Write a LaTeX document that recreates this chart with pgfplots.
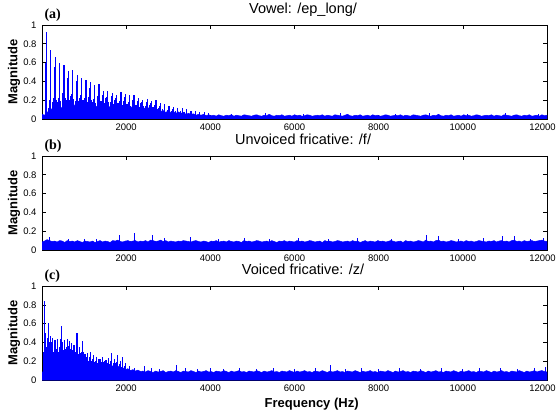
\documentclass[border=0pt]{standalone}
\usepackage{fontspec}
\setmainfont{Liberation Sans}
\newfontfamily\panelfont{Liberation Serif}
\usepackage{pgfplots}
\pgfplotsset{compat=1.18}

\pgfplotsset{
  panel/.style={
    scale only axis, width=505pt, height=94pt,
    xmin=0, xmax=12000, ymin=0, ymax=1,
    scaled x ticks=false,
    xtick={2000,4000,6000,8000,10000,12000},
    xticklabels={2000,4000,6000,8000,10000,{\kern-9pt 12000}},
    ytick={0,0.2,0.4,0.6,0.8,1},
    yticklabels={0,0.2,0.4,0.6,0.8,1},
    tick align=inside, major tick length=4pt,
    tick style={black, line width=0.6pt},
    axis line style={black, line width=0.8pt},
    xticklabel style={font=\fontsize{9.5}{10}\selectfont, yshift=-1.5pt},
    yticklabel style={font=\fontsize{9.5}{10}\selectfont, xshift=-2pt},
    ylabel={Magnitude},
    every axis y label/.style={at={(axis description cs:-0.0555,0.5)}, rotate=90, anchor=center,
      font=\bfseries\fontsize{13}{14}\selectfont},
    title style={at={(axis description cs:0.517,1)}, anchor=base, yshift=5.5pt,
      font=\fontsize{14.5}{15}\selectfont},
  },
  band/.style={draw=blue, fill=blue, line width=0.5pt},
  spikes/.style={blue, ycomb, line width=1.2pt, mark=none},
}

\begin{document}
\begin{tikzpicture}
\useasboundingbox (0,0) rectangle (556pt,415pt);

% (a) vowel
\begin{axis}[panel, name=pa, at={(42pt,296pt)}, anchor=south west, title={Vowel: /ep\_long/}]
\addplot[band] coordinates {
(0,0.05)(60,0.04)(120,0.07)(180,0.09)(240,0.11)(300,0.13)(360,0.10)(420,0.14)(480,0.11)(540,0.15)
(600,0.12)(660,0.14)(720,0.11)(780,0.15)(840,0.12)(900,0.14)(960,0.12)(1020,0.15)(1080,0.12)(1140,0.14)
(1200,0.15)(1260,0.12)(1320,0.14)(1380,0.12)(1440,0.14)(1500,0.12)(1560,0.15)(1620,0.12)(1680,0.14)(1740,0.12)
(1800,0.14)(1860,0.11)(1920,0.14)(1980,0.12)(2040,0.13)(2100,0.11)(2160,0.14)(2220,0.12)(2280,0.13)(2340,0.11)
(2400,0.13)(2460,0.10)(2520,0.12)(2580,0.10)(2640,0.11)(2700,0.09)(2760,0.10)(2820,0.08)(2880,0.09)(2940,0.07)
(3000,0.085)(3060,0.07)(3120,0.08)(3180,0.06)(3240,0.075)(3300,0.06)(3360,0.07)(3420,0.05)(3480,0.06)(3540,0.05)
(3600,0.055)(3660,0.04)(3720,0.05)(3780,0.04)(3840,0.05)(3900,0.035)(3960,0.045)
(4020,0.035)(4080,0.04)(4140,0.03)(4200,0.045)(4260,0.035)(4320,0.03)(4380,0.04)(4440,0.035)(4500,0.045)(4560,0.03)
(4620,0.04)(4680,0.035)(4740,0.03)(4800,0.045)(4860,0.04)(4920,0.035)(4980,0.03)(5040,0.04)(5100,0.045)(5160,0.035)
(5220,0.03)(5280,0.04)(5340,0.035)(5400,0.05)(5460,0.035)(5520,0.03)(5580,0.04)(5640,0.035)(5700,0.045)(5760,0.03)
(5820,0.035)(5880,0.04)(5940,0.03)(6000,0.045)(6060,0.035)(6120,0.04)(6180,0.03)(6240,0.035)(6300,0.045)(6360,0.04)
(6420,0.03)(6480,0.035)(6540,0.04)(6600,0.035)(6660,0.045)(6720,0.03)(6780,0.04)(6840,0.035)(6900,0.03)(6960,0.045)
(7020,0.04)(7080,0.035)(7140,0.03)(7200,0.04)(7260,0.05)(7320,0.035)(7380,0.03)(7440,0.04)(7500,0.035)(7560,0.045)
(7620,0.03)(7680,0.035)(7740,0.04)(7800,0.03)(7860,0.045)(7920,0.035)(7980,0.04)(8040,0.03)(8100,0.035)(8160,0.045)
(8220,0.04)(8280,0.03)(8340,0.035)(8400,0.04)(8460,0.035)(8520,0.045)(8580,0.03)(8640,0.04)(8700,0.035)(8760,0.03)
(8820,0.045)(8880,0.04)(8940,0.035)(9000,0.03)(9060,0.04)(9120,0.045)(9180,0.035)(9240,0.03)(9300,0.04)(9360,0.035)
(9420,0.05)(9480,0.035)(9540,0.03)(9600,0.04)(9660,0.035)(9720,0.045)(9780,0.03)(9840,0.035)(9900,0.04)(9960,0.03)
(10020,0.045)(10080,0.035)(10140,0.04)(10200,0.03)(10260,0.035)(10320,0.045)(10380,0.04)(10440,0.03)(10500,0.035)(10560,0.04)
(10620,0.035)(10680,0.045)(10740,0.03)(10800,0.04)(10860,0.035)(10920,0.03)(10980,0.045)(11040,0.04)(11100,0.035)(11160,0.03)
(11220,0.04)(11280,0.045)(11340,0.035)(11400,0.03)(11460,0.04)(11520,0.035)(11580,0.045)(11640,0.03)(11700,0.035)(11760,0.04)
(11820,0.03)(11880,0.045)(11940,0.035)(12000,0.04)
} \closedcycle;
% harmonics
\addplot[spikes] coordinates {
(104,0.93)(210,0.73)(316,0.655)(420,0.60)(524,0.57)(628,0.51)(732,0.52)(836,0.47)(940,0.44)(1044,0.42)
(1148,0.39)(1252,0.36)(1356,0.37)(1460,0.30)(1564,0.30)(1668,0.28)(1772,0.26)(1876,0.29)(1980,0.27)(2084,0.25)
(2188,0.26)(2292,0.22)(2396,0.20)(2500,0.21)(2604,0.19)(2708,0.20)(2812,0.17)(2916,0.16)(3020,0.14)(3124,0.13)
(3228,0.12)(3332,0.12)(3436,0.11)(3540,0.09)(3644,0.09)(3748,0.07)(3852,0.07)(3956,0.06)
};
\addplot[spikes, line width=0.8pt] coordinates {
(90,0.60)(196,0.62)(302,0.55)(406,0.50)(510,0.48)(614,0.44)(718,0.43)(822,0.40)(926,0.37)(1030,0.35)
(1134,0.33)(1238,0.30)(1342,0.31)(1446,0.26)(1550,0.25)(1654,0.24)(1758,0.22)(1862,0.24)(1966,0.23)(2070,0.21)
(2174,0.22)(2278,0.19)(2382,0.17)(2486,0.18)(2590,0.16)(2694,0.17)(2798,0.14)(2902,0.13)(3006,0.12)(3110,0.11)
};
\addplot[spikes, line width=0.7pt] coordinates {
(156,0.12)(262,0.22)(368,0.18)(472,0.25)(576,0.20)(680,0.24)(784,0.19)(888,0.22)(992,0.20)(1096,0.23)
(1200,0.18)(1304,0.21)(1408,0.19)(1512,0.22)(1616,0.18)(1720,0.20)(1824,0.17)(1928,0.19)(2032,0.16)(2136,0.18)
(2240,0.15)(2344,0.17)(2448,0.14)(2552,0.15)(2656,0.13)(2760,0.12)(2864,0.11)(2968,0.10)(3072,0.09)(3176,0.08)
(3280,0.08)(3384,0.07)(4500,0.055)(5300,0.06)(6200,0.055)(7100,0.06)(8400,0.055)(9200,0.06)(10100,0.055)(11000,0.06)(11800,0.055)
};
\addplot[spikes, line width=0.7pt] coordinates {
(182,0.20)(286,0.25)(390,0.22)(494,0.28)(598,0.24)(702,0.27)(806,0.23)(910,0.26)(1014,0.22)(1118,0.25)
(1222,0.21)(1326,0.24)(1430,0.20)(1534,0.23)(1638,0.20)(1742,0.22)(1846,0.19)(1950,0.21)(2054,0.18)(2158,0.20)
(2262,0.17)(2366,0.18)(2470,0.16)(2574,0.17)(2678,0.15)
(236,0.18)(340,0.20)(444,0.19)(548,0.22)(652,0.20)(756,0.21)(860,0.19)(964,0.20)(1068,0.18)(1172,0.20)
(1276,0.17)(1380,0.19)(1484,0.17)(1588,0.18)(1692,0.16)(1796,0.17)(1900,0.15)(2004,0.16)(2108,0.14)(2212,0.15)
(2316,0.13)(2420,0.14)(2524,0.12)(2628,0.13)(2732,0.11)
};
\end{axis}

% (b) unvoiced fricative
\begin{axis}[panel, name=pb, at={(42pt,165pt)}, anchor=south west, title={Unvoiced fricative: /f/}]
\addplot[band] coordinates {
(0,0.085)(60,0.095)(120,0.11)(180,0.10)(240,0.09)(300,0.095)(360,0.085)(420,0.10)(480,0.095)(540,0.08)
(600,0.10)(660,0.09)(720,0.095)(780,0.085)(840,0.10)(900,0.09)(960,0.08)(1020,0.095)(1080,0.09)(1140,0.085)
(1200,0.095)(1260,0.08)(1320,0.09)(1380,0.10)(1440,0.085)(1500,0.095)(1560,0.09)(1620,0.08)(1680,0.10)(1740,0.095)
(1800,0.105)(1860,0.09)(1920,0.085)(1980,0.095)(2040,0.10)(2100,0.09)(2160,0.095)(2220,0.10)(2280,0.085)(2340,0.095)
(2400,0.09)(2460,0.10)(2520,0.085)(2580,0.105)(2640,0.10)(2700,0.09)(2760,0.095)(2820,0.105)(2880,0.09)(2940,0.10)
(3000,0.085)(3060,0.095)(3120,0.09)(3180,0.085)(3240,0.095)(3300,0.09)(3360,0.10)(3420,0.095)(3480,0.09)(3540,0.085)
(3600,0.095)(3660,0.10)(3720,0.09)(3780,0.085)(3840,0.095)(3900,0.09)(3960,0.08)(4020,0.095)(4080,0.09)(4140,0.10)
(4200,0.085)(4260,0.09)(4320,0.095)(4380,0.085)(4440,0.10)(4500,0.09)(4560,0.085)(4620,0.095)(4680,0.09)(4740,0.08)
(4800,0.10)(4860,0.09)(4920,0.095)(4980,0.085)(5040,0.09)(5100,0.10)(5160,0.095)(5220,0.085)(5280,0.09)(5340,0.095)
(5400,0.085)(5460,0.10)(5520,0.09)(5580,0.08)(5640,0.095)(5700,0.09)(5760,0.10)(5820,0.085)(5880,0.095)(5940,0.09)
(6000,0.085)(6060,0.10)(6120,0.09)(6180,0.095)(6240,0.085)(6300,0.09)(6360,0.10)(6420,0.095)(6480,0.085)(6540,0.09)
(6600,0.095)(6660,0.08)(6720,0.10)(6780,0.09)(6840,0.095)(6900,0.085)(6960,0.09)(7020,0.10)(7080,0.095)(7140,0.085)
(7200,0.09)(7260,0.095)(7320,0.085)(7380,0.10)(7440,0.09)(7500,0.095)(7560,0.08)(7620,0.09)(7680,0.10)(7740,0.085)
(7800,0.095)(7860,0.09)(7920,0.085)(7980,0.10)(8040,0.09)(8100,0.095)(8160,0.085)(8220,0.09)(8280,0.10)(8340,0.095)
(8400,0.085)(8460,0.09)(8520,0.095)(8580,0.08)(8640,0.10)(8700,0.09)(8760,0.095)(8820,0.085)(8880,0.09)(8940,0.10)
(9000,0.095)(9060,0.085)(9120,0.105)(9180,0.09)(9240,0.095)(9300,0.085)(9360,0.10)(9420,0.105)(9480,0.09)(9540,0.095)
(9600,0.085)(9660,0.09)(9720,0.10)(9780,0.095)(9840,0.085)(9900,0.09)(9960,0.095)(10020,0.085)(10080,0.10)(10140,0.09)
(10200,0.095)(10260,0.085)(10320,0.09)(10380,0.10)(10440,0.095)(10500,0.09)(10560,0.085)(10620,0.095)(10680,0.09)(10740,0.10)
(10800,0.085)(10860,0.095)(10920,0.10)(10980,0.09)(11040,0.095)(11100,0.085)(11160,0.10)(11220,0.105)(11280,0.09)(11340,0.095)
(11400,0.085)(11460,0.10)(11520,0.09)(11580,0.095)(11640,0.10)(11700,0.09)(11760,0.095)(11820,0.10)(11880,0.105)(11940,0.095)
(12000,0.09)
} \closedcycle;
\addplot[spikes, line width=0.9pt] coordinates {
(183,0.134)(620,0.12)(1000,0.115)(1300,0.12)(1850,0.16)(2208,0.18)(2621,0.162)(2900,0.13)(3518,0.134)(4200,0.12)
(4800,0.125)(5400,0.12)(6100,0.13)(6800,0.12)(7500,0.125)(8300,0.12)(9126,0.158)(9420,0.148)(9900,0.12)(10500,0.13)
(10930,0.15)(11215,0.15)(11600,0.12)(11913,0.13)
};
\end{axis}

% (c) voiced fricative
\begin{axis}[panel, name=pc, at={(42pt,35pt)}, anchor=south west, title={Voiced fricative: /z/},
  xlabel={Frequency (Hz)},
  every axis x label/.style={at={(axis description cs:0.534,0)}, anchor=base, yshift=-27pt,
    font=\bfseries\fontsize{13}{14}\selectfont}]
\addplot[band] coordinates {
(0,0.08)(60,0.10)(120,0.15)(180,0.19)(240,0.17)(300,0.21)(360,0.18)(420,0.22)(480,0.19)(540,0.23)
(600,0.20)(660,0.18)(720,0.22)(780,0.19)(840,0.21)(900,0.18)(960,0.20)(1020,0.17)(1080,0.19)(1140,0.16)
(1200,0.18)(1260,0.15)(1320,0.17)(1380,0.15)(1440,0.16)(1500,0.14)(1560,0.16)(1620,0.14)(1680,0.15)(1740,0.13)
(1800,0.15)(1860,0.12)(1920,0.13)(1980,0.11)(2040,0.12)(2100,0.10)(2160,0.11)(2220,0.095)(2280,0.105)(2340,0.09)
(2400,0.095)(2460,0.085)(2520,0.10)(2580,0.09)(2640,0.08)(2700,0.095)(2760,0.085)(2820,0.09)(2880,0.10)(2940,0.08)
(3000,0.09)(3060,0.095)(3120,0.085)(3180,0.10)(3240,0.09)(3300,0.08)(3360,0.095)(3420,0.09)(3480,0.085)(3540,0.10)
(3600,0.09)(3660,0.08)(3720,0.095)(3780,0.085)(3840,0.09)(3900,0.10)(3960,0.085)(4020,0.09)(4080,0.08)(4140,0.095)
(4200,0.09)(4260,0.085)(4320,0.10)(4380,0.09)(4440,0.08)(4500,0.095)(4560,0.085)(4620,0.09)(4680,0.10)(4740,0.085)
(4800,0.09)(4860,0.08)(4920,0.095)(4980,0.09)(5040,0.085)(5100,0.10)(5160,0.09)(5220,0.08)(5280,0.095)(5340,0.085)
(5400,0.09)(5460,0.10)(5520,0.085)(5580,0.09)(5640,0.08)(5700,0.095)(5760,0.09)(5820,0.085)(5880,0.10)(5940,0.09)
(6000,0.08)(6060,0.095)(6120,0.085)(6180,0.09)(6240,0.10)(6300,0.085)(6360,0.09)(6420,0.08)(6480,0.095)(6540,0.09)
(6600,0.085)(6660,0.10)(6720,0.09)(6780,0.08)(6840,0.095)(6900,0.085)(6960,0.09)(7020,0.10)(7080,0.085)(7140,0.09)
(7200,0.08)(7260,0.095)(7320,0.09)(7380,0.085)(7440,0.10)(7500,0.09)(7560,0.08)(7620,0.095)(7680,0.085)(7740,0.09)
(7800,0.10)(7860,0.085)(7920,0.09)(7980,0.08)(8040,0.095)(8100,0.09)(8160,0.085)(8220,0.10)(8280,0.09)(8340,0.08)
(8400,0.095)(8460,0.085)(8520,0.09)(8580,0.10)(8640,0.085)(8700,0.09)(8760,0.08)(8820,0.095)(8880,0.09)(8940,0.085)
(9000,0.10)(9060,0.09)(9120,0.08)(9180,0.095)(9240,0.085)(9300,0.09)(9360,0.10)(9420,0.085)(9480,0.09)(9540,0.08)
(9600,0.095)(9660,0.09)(9720,0.085)(9780,0.10)(9840,0.09)(9900,0.08)(9960,0.095)(10020,0.085)(10080,0.09)(10140,0.10)
(10200,0.085)(10260,0.09)(10320,0.08)(10380,0.095)(10440,0.09)(10500,0.085)(10560,0.10)(10620,0.09)(10680,0.08)(10740,0.095)
(10800,0.085)(10860,0.09)(10920,0.10)(10980,0.085)(11040,0.09)(11100,0.08)(11160,0.095)(11220,0.09)(11280,0.085)(11340,0.10)
(11400,0.09)(11460,0.08)(11520,0.095)(11580,0.085)(11640,0.09)(11700,0.10)(11760,0.085)(11820,0.095)(11880,0.10)(11940,0.09)
(12000,0.085)
} \closedcycle;
\addplot[spikes] coordinates {
(63,0.84)(150,0.61)(207,0.47)(250,0.45)(300,0.43)(330,0.43)(461,0.575)(540,0.43)(600,0.44)(650,0.42)
(700,0.39)(760,0.37)(834,0.50)(900,0.35)(969,0.41)(1020,0.28)(1080,0.29)(1160,0.30)(1230,0.27)(1300,0.24)
(1380,0.225)(1440,0.24)(1520,0.21)(1580,0.23)(1660,0.29)(1720,0.22)(1800,0.27)(1860,0.20)(1910,0.25)(1980,0.18)
};
\addplot[spikes, line width=0.8pt] coordinates {
(100,0.35)(180,0.40)(280,0.30)(360,0.44)(400,0.30)(430,0.44)(500,0.32)(570,0.35)(630,0.30)(680,0.33)
(730,0.28)(800,0.30)(870,0.28)(940,0.30)(1000,0.25)(1050,0.22)(1120,0.25)(1200,0.22)(1270,0.20)(1340,0.22)
(1410,0.19)(1480,0.20)(1550,0.18)(1620,0.20)(1690,0.18)(1760,0.19)(1830,0.17)(1950,0.15)
(2080,0.15)(2200,0.13)(2430,0.15)(2600,0.13)(2800,0.12)(3185,0.16)(3400,0.13)(3700,0.12)(4000,0.125)(4300,0.12)
(4700,0.13)(5100,0.12)(5500,0.125)(6000,0.12)(6500,0.13)(6860,0.157)(7200,0.12)(7600,0.13)(8000,0.12)(8500,0.125)
(9000,0.12)(9500,0.13)(10000,0.12)(10400,0.125)(10900,0.13)(11300,0.12)(11700,0.13)(11950,0.14)
};
\addplot[spikes, line width=0.7pt] coordinates {
(25,0.20)(40,0.30)(85,0.50)(115,0.28)(130,0.45)(165,0.30)(195,0.35)(225,0.40)(265,0.30)(290,0.38)
(315,0.25)(345,0.33)(375,0.28)(415,0.35)(445,0.30)(475,0.40)(520,0.28)(555,0.33)(585,0.30)(615,0.36)
(665,0.27)(715,0.32)(745,0.26)(780,0.30)(815,0.28)(850,0.33)(885,0.25)(920,0.29)(955,0.26)(985,0.30)
(1035,0.22)(1065,0.24)(1100,0.20)(1140,0.23)(1180,0.20)(1215,0.24)(1250,0.19)(1285,0.21)(1320,0.18)(1360,0.20)
(1400,0.17)(1460,0.19)(1500,0.17)(1540,0.18)(1600,0.17)(1640,0.20)(1700,0.17)(1740,0.18)(1780,0.16)(1850,0.15)(1890,0.14)
};
\end{axis}

\node[anchor=base west, font=\panelfont\bfseries\fontsize{14}{15}\selectfont] at ([xshift=-1pt,yshift=6.5pt]pa.north west) {(a)};
\node[anchor=base west, font=\panelfont\bfseries\fontsize{14}{15}\selectfont] at ([xshift=-1pt,yshift=6.5pt]pb.north west) {(b)};
\node[anchor=base west, font=\panelfont\bfseries\fontsize{14}{15}\selectfont] at ([xshift=-1pt,yshift=6.5pt]pc.north west) {(c)};
\end{tikzpicture}
\end{document}
